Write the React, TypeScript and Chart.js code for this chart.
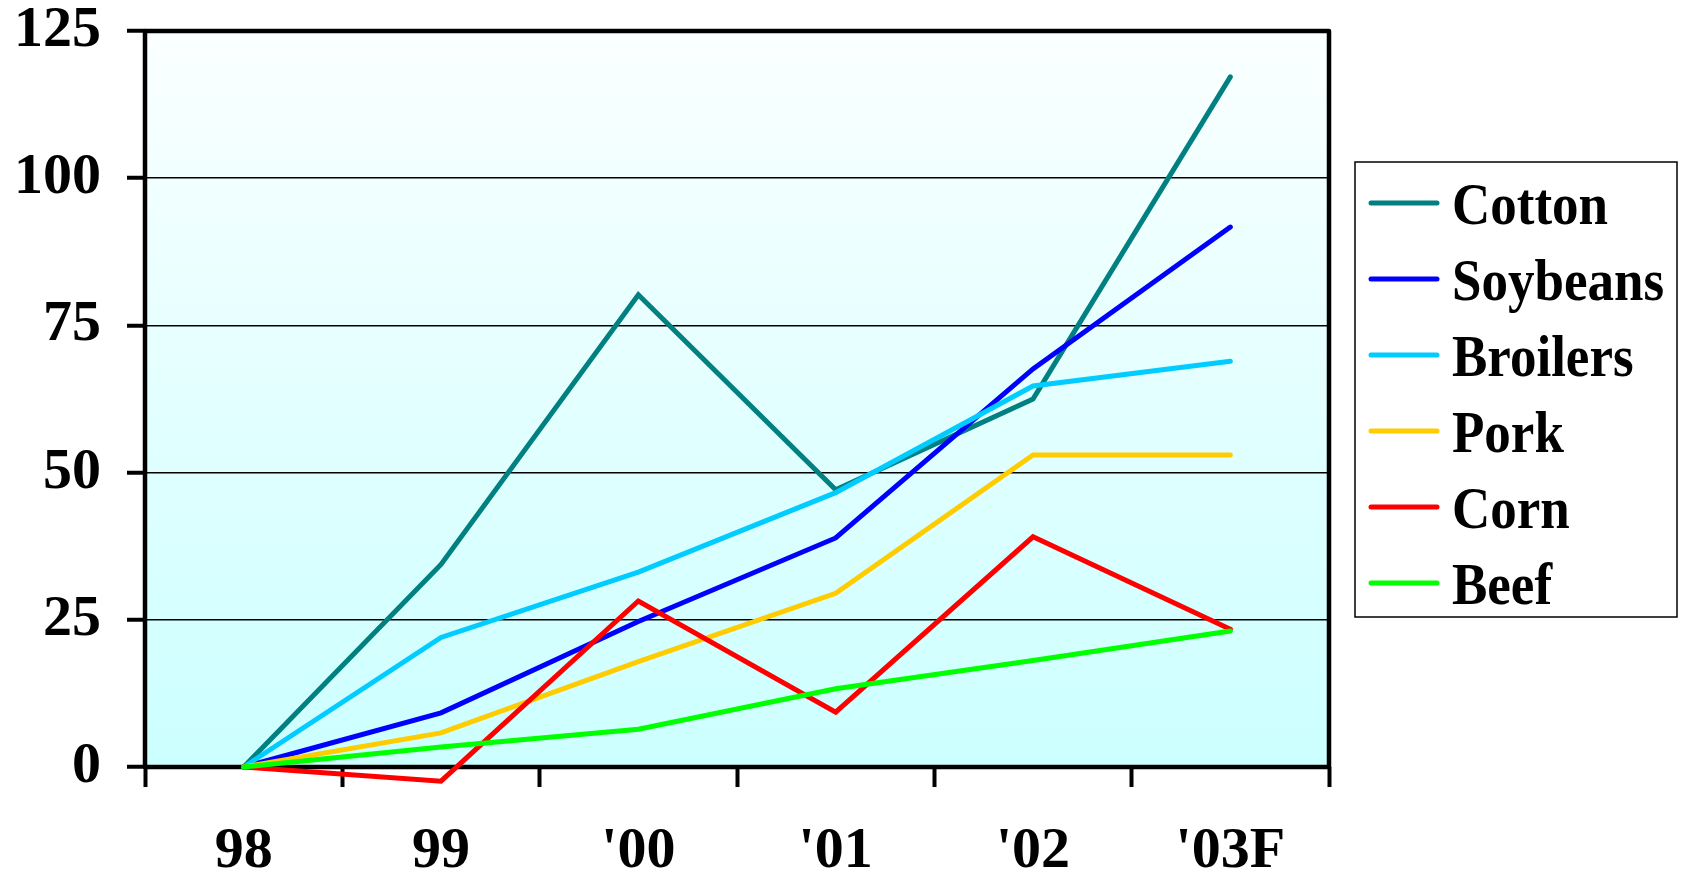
import React, { useEffect, useRef } from "react";
import { Chart, registerables } from "chart.js";

Chart.register(...registerables);

const categories = ["98", "99", "'00", "'01", "'02", "'03F"];
const seriesNames = ["Cotton", "Soybeans", "Broilers", "Pork", "Corn", "Beef"];
const seriesColors = ["#008080", "#0000ff", "#00ccff", "#ffcc00", "#ff0000", "#00ff00"];
const cotton = [0, 34.4, 80.2, 47.1, 62.5, 117.2];
const soybeans = [0, 9.2, 24.7, 38.9, 67.6, 91.7];
const broilers = [0, 22.0, 33.1, 46.6, 64.7, 68.9];
const pork = [0, 5.8, 17.9, 29.5, 53.0, 53.0];
const corn = [0, -2.4, 28.2, 9.3, 39.1, 23.4];
const beef = [0, 3.4, 6.4, 13.3, 18.1, 23.1];
const yTicks = [0, 25, 50, 75, 100, 125];

const FONT_FAMILY = "'Liberation Serif', 'Times New Roman', serif";

const bgPlugin = {
  id: "plotBg",
  beforeDraw(chart: any) {
    const { ctx, chartArea } = chart;
    if (!chartArea) return;
    const g = ctx.createLinearGradient(0, chartArea.top, 0, chartArea.bottom);
    g.addColorStop(0, "#fbffff");
    g.addColorStop(1, "#ccffff");
    ctx.save();
    ctx.fillStyle = "#ffffff";
    ctx.fillRect(0, 0, chart.width, chart.height);
    ctx.fillStyle = g;
    ctx.fillRect(chartArea.left, chartArea.top, chartArea.right - chartArea.left, chartArea.bottom - chartArea.top);
    ctx.restore();
  },
  beforeDatasetsDraw(chart: any) {
    const { ctx, chartArea } = chart;
    ctx.save();
    ctx.strokeStyle = "#000000";
    ctx.lineWidth = 4.5;
    ctx.lineJoin = "round";
    ctx.strokeRect(chartArea.left, chartArea.top, chartArea.right - chartArea.left, chartArea.bottom - chartArea.top);
    ctx.restore();
  },
};

const legendPlugin = {
  id: "boxLegend",
  afterDraw(chart: any) {
    const { ctx } = chart;
    const x0 = 1355, y0 = 162, w = 322, h = 455;
    const sy = 1.12;
    ctx.save();
    ctx.strokeStyle = "#000000";
    ctx.lineWidth = 1.5;
    ctx.strokeRect(x0, y0, w, h);
    ctx.textBaseline = "alphabetic";
    ctx.textAlign = "left";
    chart.data.datasets.forEach((ds: any, i: number) => {
      const y = 203 + i * 76;
      ctx.strokeStyle = ds.borderColor;
      ctx.lineWidth = 5;
      ctx.lineCap = "round";
      ctx.beginPath();
      ctx.moveTo(1371, y);
      ctx.lineTo(1437, y);
      ctx.stroke();
      ctx.save();
      ctx.translate(1452, y + 21);
      ctx.scale(1, sy);
      ctx.font = `bold 53px ${FONT_FAMILY}`;
      ctx.fillStyle = "#000000";
      ctx.fillText(ds.label, 0, 0);
      ctx.restore();
    });
    ctx.restore();
  },
};

export default function App() {
  const canvasRef = useRef<HTMLCanvasElement | null>(null);

  useEffect(() => {
    const canvas = canvasRef.current;
    if (!canvas) return;
    const values = [cotton, soybeans, broilers, pork, corn, beef];
    const chart = new Chart(canvas, {
      type: "line",
      data: {
        labels: categories,
        datasets: seriesNames.map((name, i) => ({
          label: name,
          data: values[i],
          borderColor: seriesColors[i],
          backgroundColor: seriesColors[i],
          borderWidth: 5,
          borderCapStyle: "round",
          borderJoinStyle: "miter",
          pointRadius: 0,
          tension: 0,
          fill: false,
          clip: false,
          order: seriesNames.length - i,
        })),
      },
      options: {
        responsive: false,
        animation: false,
        events: [],
        layout: { padding: { top: 31, right: 356, left: 0, bottom: 0 } },
        plugins: {
          legend: { display: false },
          tooltip: { enabled: false },
          title: { display: false },
        },
        scales: {
          x: {
            type: "category",
            offset: true,
            border: { display: false },
            grid: {
              offset: true,
              drawOnChartArea: false,
              drawTicks: true,
              tickLength: 20,
              tickWidth: 4,
              tickColor: "#000000",
            },
            ticks: {
              color: "#000000",
              font: { family: FONT_FAMILY, size: 58, weight: "bold" },
              padding: 30,
              maxRotation: 0,
              autoSkip: false,
            },
            afterFit(scale: any) {
              scale.height = 111;
              scale.paddingLeft = 0;
              scale.paddingRight = 0;
            },
          },
          y: {
            min: 0,
            max: 125,
            border: { display: false },
            afterBuildTicks(scale: any) {
              scale.ticks = yTicks.map((v) => ({ value: v }));
            },
            grid: {
              color: "#000000",
              lineWidth: 1.5,
              drawTicks: true,
              tickLength: 18,
              tickWidth: 4,
              tickColor: "#000000",
            },
            ticks: {
              color: "#000000",
              font: { family: FONT_FAMILY, size: 58, weight: "bold" },
              padding: 26,
            },
            afterFit(scale: any) {
              scale.width = 145;
              scale.paddingTop = 0;
              scale.paddingBottom = 0;
            },
          },
        },
      },
      plugins: [bgPlugin, legendPlugin],
    } as any);
    return () => chart.destroy();
  }, []);

  return (
    <div style={{ position: "fixed", left: 0, top: 0, width: 1685, height: 878, background: "#ffffff" }}>
      <canvas ref={canvasRef} width={1685} height={878} style={{ width: 1685, height: 878, display: "block" }} />
    </div>
  );
}
